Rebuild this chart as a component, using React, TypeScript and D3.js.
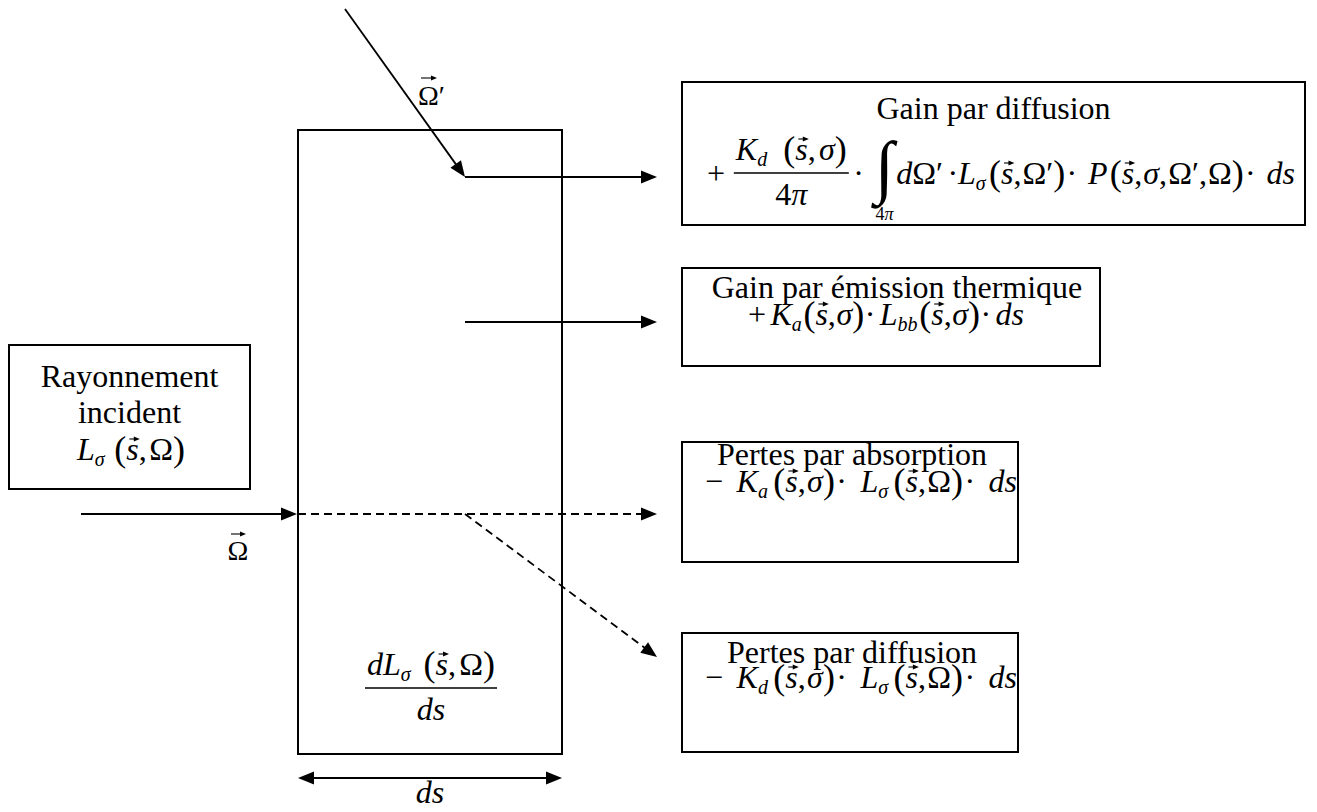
import React from 'react';
import * as d3 from 'd3';

const FONT = '"Liberation Serif", "Times New Roman", serif';
const FS = 32;

type Tok = { kind?: 'tok'; s: string; it?: boolean; fs?: number; dy?: number; vec?: boolean; g?: number };
type Frac = { kind: 'frac'; num: Item[]; den: Item[]; w: number; g?: number };
type Int = { kind: 'int'; sub: Tok[]; g?: number };
type Item = Tok | Frac | Int;

const it = (s: string, o: Partial<Tok> = {}): Tok => ({ s, it: true, ...o });
const rm = (s: string, o: Partial<Tok> = {}): Tok => ({ s, ...o });
const sb = (s: string, o: Partial<Tok> = {}): Tok => ({ s, it: true, fs: 20, dy: 6, ...o });
const lp = (o: Partial<Tok> = {}): Tok => ({ s: '(', fs: 36, dy: 1, ...o });
const rp = (o: Partial<Tok> = {}): Tok => ({ s: ')', fs: 36, dy: 1, ...o });
const sv = (o: Partial<Tok> = {}): Tok => ({ s: 's', it: true, vec: true, ...o });
const cm = (o: Partial<Tok> = {}): Tok => ({ s: ',', g: 1, ...o });
const dot = (o: Partial<Tok> = {}): Tok => ({ s: '·', g: 10, ...o });

// ---- text content ----
const boxTitles = ['Gain par diffusion', 'Gain par émission thermique', 'Pertes par absorption', 'Pertes par diffusion'];
const incidentLines = ['Rayonnement', 'incident'];

const fGainDiff: Item[] = [
  rm('+', { g: 8 }),
  { kind: 'frac', w: 115, num: [it('K'), sb('d', { g: 5 }), lp(), sv(), cm(), it('σ'), rp()], den: [rm('4'), it('π')], g: 4 },
  rm('·', { g: 10 }),
  { kind: 'int', sub: [rm('4', { fs: 18 }), it('π', { fs: 18 })], g: 2 },
  it('d'), rm('Ω'), rm('′', { g: 4 }), rm('·'), it('L'), sb('σ', { g: 3 }), lp(), sv(), cm(), rm('Ω'), rm('′'), rp({ g: 1 }),
  dot(), it('P', { g: 2 }), lp(), sv(), cm(), it('σ'), cm(), rm('Ω'), rm('′'), cm(), rm('Ω'), rp({ g: 1 }),
  dot(), it('d'), it('s'),
];
const fGainTherm: Item[] = [
  rm('+', { g: 8 }), it('K'), sb('a', { g: 3 }), lp(), sv(), cm(), it('σ'), rp({ g: 1 }), dot({ g: 8 }),
  it('L'), sb('bb', { g: 3 }), lp(), sv(), cm(), it('σ'), rp({ g: 1 }), dot({ g: 8 }), it('d'), it('s'),
];
const fLossAbs: Item[] = [
  rm('−', { g: 10 }), it('K'), sb('a', { g: 4 }), lp(), sv(), cm(), it('σ'), rp({ g: 1 }), dot(),
  it('L'), sb('σ', { g: 4 }), lp(), sv(), cm(), rm('Ω'), rp({ g: 1 }), dot(), it('d'), it('s'),
];
const fLossDiff: Item[] = [
  rm('−', { g: 10 }), it('K'), sb('d', { g: 4 }), lp(), sv(), cm(), it('σ'), rp({ g: 1 }), dot(),
  it('L'), sb('σ', { g: 4 }), lp(), sv(), cm(), rm('Ω'), rp({ g: 1 }), dot(), it('d'), it('s'),
];
const fIncident: Item[] = [it('L'), sb('σ', { g: 4 }), lp(), sv(), cm(), rm('Ω'), rp()];
const fDeriv: Item[] = [
  { kind: 'frac', w: 132, num: [it('d'), it('L'), sb('σ', { g: 4 }), lp(), sv(), cm(), rm('Ω'), rp()], den: [it('d'), it('s')] },
];

// ---- measurement ----
let ctx: CanvasRenderingContext2D | null = null;
function measure(t: Tok): number {
  if (!ctx) ctx = document.createElement('canvas').getContext('2d');
  ctx!.font = `${t.it ? 'italic ' : ''}${t.fs ?? FS}px ${FONT}`;
  return ctx!.measureText(t.s).width;
}
const INT_FS = 70;
function itemW(i: Item): number {
  if (i.kind === 'frac') return i.w;
  if (i.kind === 'int') {
    const gw = measure({ s: '∫', fs: INT_FS });
    const sw = i.sub.reduce((a, t) => a + measure(t), 0);
    return Math.max(gw, sw);
  }
  return measure(i as Tok);
}
function natural(items: Item[]) {
  return items.reduce((a, i) => a + itemW(i) + (i.g ?? 0), 0);
}

function layout(items: Item[], x0: number, y: number, width: number | null, els: React.ReactNode[]) {
  const gsum = items.reduce((a, i) => a + (i.g ?? 0), 0);
  const nat = natural(items);
  let k = 1;
  if (width != null && gsum > 0) k = Math.max(0, (gsum + width - nat) / gsum);
  let x = x0;
  items.forEach((i) => {
    const w = itemW(i);
    if (i.kind === 'frac') {
      const ly = y - 11;
      els.push(<line key={els.length} x1={x} x2={x + w} y1={ly} y2={ly} stroke="#000" strokeWidth={1.4} />);
      layout(i.num, x + 2, ly - 13, w - 4, els);
      const dw = natural(i.den);
      layout(i.den, x + (w - dw) / 2, ly + 32, null, els);
    } else if (i.kind === 'int') {
      const gw = measure({ s: '∫', fs: INT_FS });
      els.push(<text key={els.length} x={x + (w - gw) / 2} y={y + 6} fontSize={INT_FS}>∫</text>);
      const sw = natural(i.sub);
      layout(i.sub, x + (w - sw) / 2, y + 36, null, els);
    } else {
      const t = i as Tok;
      const fs = t.fs ?? FS;
      els.push(
        <text key={els.length} x={x} y={y + (t.dy ?? 0)} fontSize={fs} fontStyle={t.it ? 'italic' : 'normal'}>{t.s}</text>
      );
      if (t.vec) vecArrow(x + 3, x + w + 1, y - 21, els);
    }
    x += w + (i.g ?? 0) * k;
  });
}

function vecArrow(xa: number, xb: number, y: number, els: React.ReactNode[]) {
  els.push(<line key={els.length} x1={xa} x2={xb - 3} y1={y} y2={y} stroke="#000" strokeWidth={1.1} />);
  els.push(<path key={els.length} d={`M${xb},${y} L${xb - 6},${y - 2.6} L${xb - 6},${y + 2.6} Z`} fill="#000" />);
}

type Seg = { x1: number; y1: number; x2: number; y2: number; dash?: boolean; start?: boolean; end?: boolean };

function arrowSeg(s: Seg, key: number) {
  const dx = s.x2 - s.x1, dy = s.y2 - s.y1;
  const L = Math.hypot(dx, dy);
  const ux = dx / L, uy = dy / L;
  const nx = -uy, ny = ux;
  const AL = 16, AW = 6.5;
  const a1 = s.start ? 10 : 0, a2 = s.end ? 10 : 0;
  const head = (tx: number, ty: number, sx: number, sy: number) =>
    `M${tx},${ty} L${tx - sx * AL + nx * AW},${ty - sy * AL + ny * AW} L${tx - sx * AL - nx * AW},${ty - sy * AL - ny * AW} Z`;
  return (
    <g key={key}>
      <line x1={s.x1 + ux * a1} y1={s.y1 + uy * a1} x2={s.x2 - ux * a2} y2={s.y2 - uy * a2}
        stroke="#000" strokeWidth={1.8} strokeDasharray={s.dash ? '8 5' : undefined} />
      {s.end && <path d={head(s.x2, s.y2, ux, uy)} fill="#000" />}
      {s.start && <path d={head(s.x1, s.y1, -ux, -uy)} fill="#000" />}
    </g>
  );
}

export default function App() {
  const els: React.ReactNode[] = [];
  layout(fGainDiff, 707, 184, 1295 - 707, els);
  layout(fGainTherm, 748, 325, 1024 - 748, els);
  layout(fLossAbs, 705, 492, 1017 - 705, els);
  layout(fLossDiff, 705, 688, 1017 - 705, els);
  layout(fIncident, 77, 460, 185 - 77, els);
  layout(fDeriv, 365, 699, null, els);

  const boxes = [
    { x: 682, y: 82, w: 1305 - 682, h: 225 - 82 },
    { x: 682, y: 268, w: 1100 - 682, h: 366 - 268 },
    { x: 9, y: 345, w: 250 - 9, h: 489 - 345 },
    { x: 682, y: 442, w: 1018 - 682, h: 562 - 442 },
    { x: 682, y: 633, w: 1018 - 682, h: 752 - 633 },
  ];
  const segs: Seg[] = [
    { x1: 345, y1: 9, x2: 465, y2: 177, end: true },
    { x1: 465, y1: 177, x2: 657, y2: 177, end: true },
    { x1: 465, y1: 322, x2: 657, y2: 322, end: true },
    { x1: 81, y1: 514, x2: 297, y2: 514, end: true },
    { x1: 298, y1: 514, x2: 657, y2: 514, dash: true, end: true },
    { x1: 465, y1: 514, x2: 657, y2: 657, dash: true, end: true },
    { x1: 298, y1: 778, x2: 562, y2: 778, start: true, end: true },
  ];

  const omW = 20;
  return (
    <svg width={1317} height={812} style={{ position: 'absolute', left: 0, top: 0, background: '#fff' }}
      fontFamily={FONT} fill="#000">
      <rect x={0} y={0} width={1317} height={812} fill="#fff" />
      <rect x={298} y={130} width={562 - 298} height={754 - 130} fill="none" stroke="#000" strokeWidth={2} />
      {boxes.map((b, i) => (
        <rect key={i} x={b.x} y={b.y} width={b.w} height={b.h} fill="none" stroke="#000" strokeWidth={2} />
      ))}
      {segs.map((s, i) => arrowSeg(s, i))}

      <text x={993.5} y={119} fontSize={32} textAnchor="middle">{boxTitles[0]}</text>
      <text x={897} y={298} fontSize={32} textAnchor="middle">{boxTitles[1]}</text>
      <text x={852} y={465} fontSize={32} textAnchor="middle">{boxTitles[2]}</text>
      <text x={852} y={663} fontSize={32} textAnchor="middle">{boxTitles[3]}</text>
      <text x={129.5} y={387} fontSize={32} textAnchor="middle">{incidentLines[0]}</text>
      <text x={129.5} y={423} fontSize={32} textAnchor="middle">{incidentLines[1]}</text>

      {/* Omega labels */}
      <text x={238} y={560} fontSize={28} textAnchor="middle">Ω</text>
      <g>{(() => { const e: React.ReactNode[] = []; vecArrow(238 - omW / 2 + 3, 238 + omW / 2 - 2, 534, e); return e; })()}</g>
      <text x={418} y={105} fontSize={28}>Ω′</text>
      <g>{(() => { const e: React.ReactNode[] = []; vecArrow(421, 437, 78, e); return e; })()}</g>

      <text x={430} y={803} fontSize={32} fontStyle="italic" textAnchor="middle">ds</text>
      {els}
    </svg>
  );
}
